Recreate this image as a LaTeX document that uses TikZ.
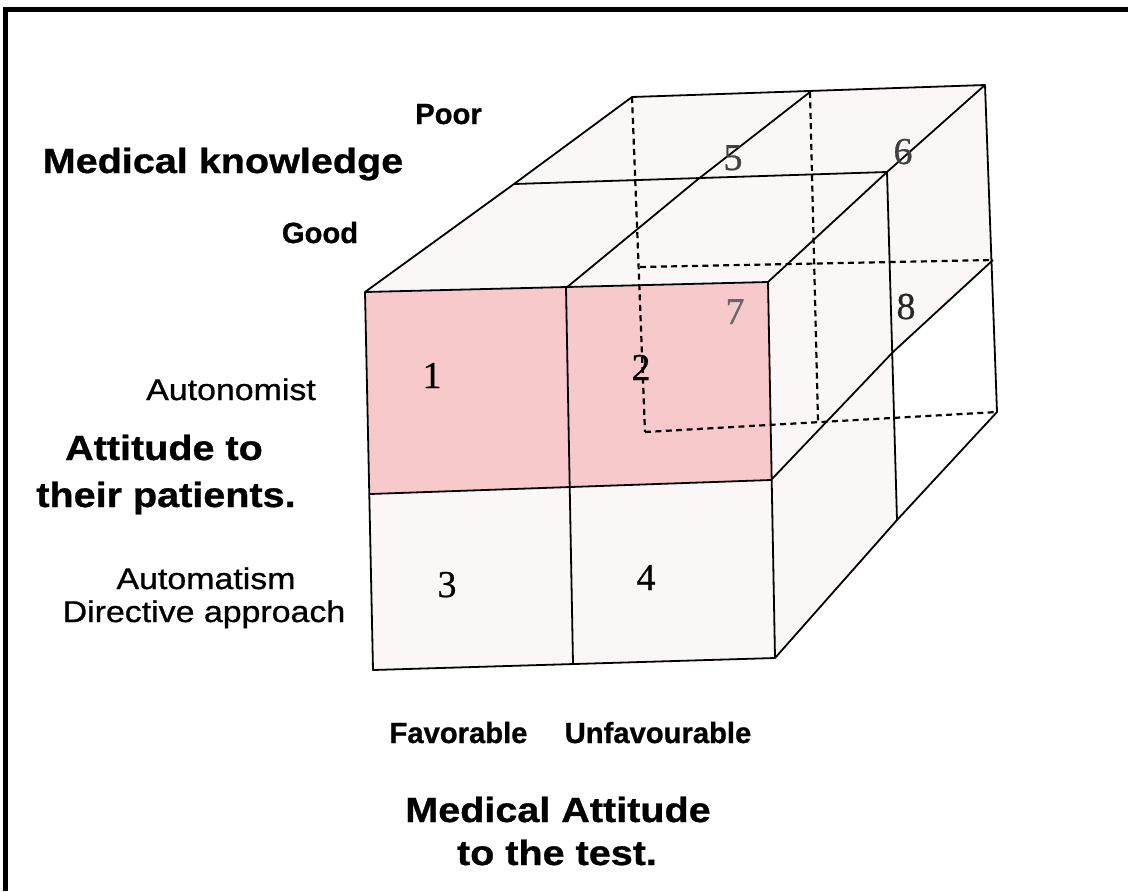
\documentclass[tikz,border=0pt]{standalone}
\usepackage{fontspec}
\setmainfont{Liberation Sans}
\newfontfamily\numfont[FakeBold=0.6]{Liberation Serif}
\newfontfamily\medfont[FakeBold=0.8]{Liberation Sans}
\newfontfamily\heavyfont[BoldFeatures={FakeBold=0.8}]{Liberation Sans}
\definecolor{pinkfill}{HTML}{F7C9CA}
\definecolor{lightfill}{HTML}{FBF7F7}
\begin{document}
\begin{tikzpicture}[x=0.5pt,y=-0.5pt,
  edge/.style={line width=0.9pt,line join=round},
  hidden/.style={line width=1.1pt,dash pattern=on 3pt off 2.2pt},
  bigtxt/.style={font=\heavyfont\bfseries\fontsize{17.5}{21}\selectfont,anchor=base,inner sep=0pt},
  smallbold/.style={font=\heavyfont\bfseries\fontsize{14.6}{17}\selectfont,anchor=base,inner sep=0pt},
  regtxt/.style={font=\medfont\fontsize{15}{18}\selectfont,anchor=base,inner sep=0pt},
  numtxt/.style={font=\numfont\fontsize{19}{22}\selectfont,anchor=base,inner sep=0pt}]
\useasboundingbox (0,0) rectangle (1128,891);
\fill[white] (0,0) rectangle (1128,891);
% frame
\draw[line width=2.5pt] (5.5,891) -- (5.5,9.5) -- (1128,9.5);
% vertices
\coordinate (F00) at (365,292); \coordinate (F10) at (566,288); \coordinate (F20) at (768,282);
\coordinate (F01) at (370,494); \coordinate (F11) at (570,488); \coordinate (F21) at (771,480);
\coordinate (F02) at (373,670); \coordinate (F12) at (573,664); \coordinate (F22) at (775,658);
\coordinate (M00) at (514,184); \coordinate (M10) at (697,180); \coordinate (M20) at (887,172);
\coordinate (M21) at (893,352); \coordinate (M22) at (897,520);
\coordinate (B00) at (632,97); \coordinate (B10) at (810,92); \coordinate (B20) at (985,85);
\coordinate (B01) at (640,267); \coordinate (B11) at (814,264); \coordinate (B21) at (993,260);
\coordinate (B02) at (645,432); \coordinate (B12) at (818,422); \coordinate (B22) at (997,412);
% fills
\fill[lightfill] (F00) -- (F20) -- (B20) -- (B00) -- cycle;
\fill[lightfill] (F20) -- (B20) -- (B22) -- (F22) -- cycle;
\fill[white] (M21) -- (B21) -- (B22) -- (M22) -- cycle;
\fill[lightfill] (F01) -- (F21) -- (F22) -- (F02) -- cycle;
\fill[pinkfill] (F00) -- (F20) -- (F21) -- (F01) -- cycle;
% hidden back-face lines
\draw[hidden] (B00) -- (B02);
\draw[hidden] (B10) -- (B12);
\draw[hidden] (B01) -- (B21);
\draw[hidden] (B02) -- (B22);
% front face
\draw[edge] (F00) -- (F20) -- (F22) -- (F02) -- cycle;
\draw[edge] (F01) -- (F21);
\draw[edge] (F10) -- (F12);
% top face
\draw[edge] (F00) -- (M00) -- (B00) -- (B20) -- (M20) -- (F20);
\draw[edge] (M00) -- (M20);
\draw[edge] (F10) -- (M10) -- (B10);
% right face
\draw[edge] (B20) -- (B22) -- (M22) -- (F22);
\draw[edge] (M20) -- (M22);
\draw[edge] (F21) -- (M21) -- (B21);
% numbers
\node[numtxt] (n1) at (432,388) {1};
\node[numtxt] (n2) at (641,380) {2};
\node[numtxt] (n3) at (447,597) {3};
\node[numtxt] (n4) at (646,590) {4};
\node[numtxt,text=black!75] (n5) at (733,170) {5};
\node[numtxt,text=black!75] (n6) at (903,164) {6};
\node[numtxt,text=black!60] (n7) at (735,324) {7};
\node[numtxt,text=black!85] (n8) at (906,319) {8};
% labels
\node[smallbold] (poor) at (448.5,124) {Poor};
\node[bigtxt] (mk) at (223,173) {\scalebox{1.13}[1]{Medical knowledge}};
\node[smallbold] (good) at (320,243) {Good};
\node[regtxt] (auto) at (231,400) {\scalebox{1.13}[1]{Autonomist}};
\node[bigtxt] (att1) at (164,460) {\scalebox{1.13}[1]{Attitude to}};
\node[bigtxt] (att2) at (166,507) {\scalebox{1.13}[1]{their patients.}};
\node[regtxt] (autom) at (206,589) {\scalebox{1.13}[1]{Automatism}};
\node[regtxt] (dir) at (204,622) {\scalebox{1.13}[1]{Directive approach}};
\node[smallbold] (fav) at (458.5,743) {Favorable};
\node[smallbold] (unfav) at (658,743) {Unfavourable};
\node[bigtxt] (mat1) at (558,822) {\scalebox{1.13}[1]{Medical Attitude}};
\node[bigtxt] (mat2) at (557,865) {\scalebox{1.13}[1]{to the test.}};
\end{tikzpicture}
\end{document}
